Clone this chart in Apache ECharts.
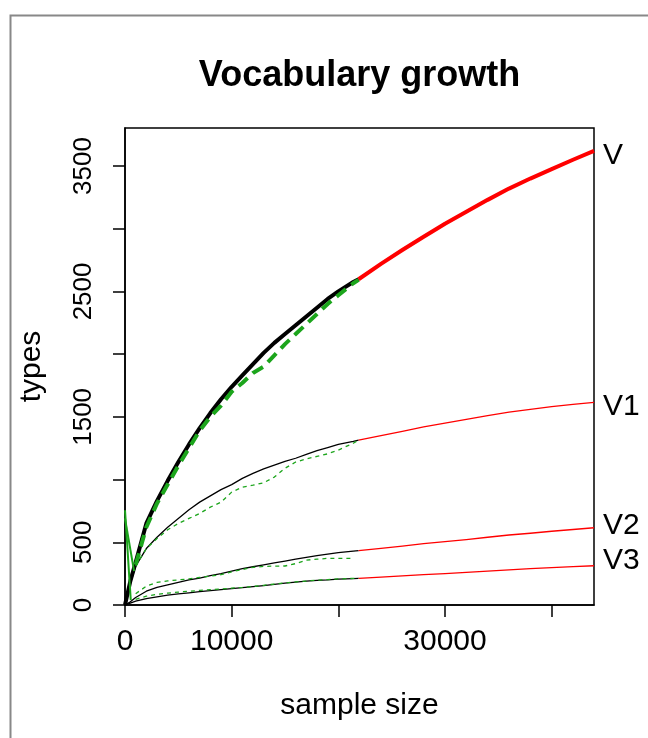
<!DOCTYPE html>
<html>
<head>
<meta charset="utf-8">
<script src="https://cdn.jsdelivr.net/npm/echarts@6/dist/echarts.min.js"></script>
<style>
html,body{margin:0;padding:0;background:#fff;}
#chart{width:648px;height:738px;}
</style>
</head>
<body>
<div id="chart"></div>
<script>
// ---- data ----
const sampleSizes = [0, 500, 1000, 2000, 3000, 4000, 5000, 6000, 7000, 8000, 9000, 10000, 11000, 12000, 13000, 14000, 15000, 16000, 17000, 18000, 19000, 20000, 21400, 21900];
const V_obs  = [0,190,340,650,830,990,1140,1280,1410,1530,1640,1740,1830,1920,2010,2090,2160,2230,2300,2370,2440,2500,2575,2597];
const V1_obs = [0,170,310,450,540,620,690,760,820,870,920,960,1010,1050,1085,1115,1145,1170,1200,1230,1255,1280,1305,1315];
const V2_obs = [0,25,60,110,140,160,180,200,215,235,250,270,290,305,320,335,350,365,380,393,405,418,430,433];
const V3_obs = [0,15,30,50,65,78,88,97,106,114,122,130,138,146,155,165,175,183,190,196,200,206,211,213];

const V_interp  = [null,null,320,620,810,960,1110,1250,1390,1500,1590,1700,1770,1850,1900,1990,2080,2160,2240,2320,2400,2470,2565,2592];
const V1_interp = [null,null,310,450,530,600,650,690,730,780,820,900,940,955,975,1020,1090,1140,1165,1185,1205,1235,1290,1315];
const V2_interp = [null,null,90,150,180,192,200,208,220,230,242,265,283,300,308,310,311,330,358,365,372,372,372,null];
const V3_interp = [null,null,45,70,85,95,103,110,116,122,128,134,140,148,157,167,176,184,191,198,203,208,212,213];

const extSizes = [21900, 24000, 26000, 28000, 30000, 32000, 34000, 36000, 38000, 40000, 42000, 43970];
const V_ext  = [2597,2720,2830,2936,3040,3135,3230,3320,3400,3475,3550,3620];
const V1_ext = [1315,1350,1385,1420,1450,1480,1510,1537,1560,1582,1600,1616];
const V2_ext = [433,452,470,490,505,522,540,558,572,588,602,616];
const V3_ext = [213,222,232,242,250,260,270,280,290,298,306,313];

const spikeA_N = [0, 540];
const spikeA_V = [755, 40];
const spikeB_N = [0, 850];
const spikeB_V = [690, 270];

const xTickValues = [0, 10000, 20000, 30000, 40000];
const xTickLabels = [0, 10000, 30000];
const yTickValues = [0, 500, 1000, 1500, 2000, 2500, 3000, 3500];
const yTickLabels = [0, 500, 1500, 2500, 3500];
const seriesLabels = ['V', 'V1', 'V2', 'V3'];
const X_MAX = 43970, Y_MAX = 3803;

// ---- chart ----
const pairs = (xs, ys) => xs.map((x, i) => [x, ys[i]]);
const FONT = '"Liberation Sans", Arial, Helvetica, sans-serif';
const GREEN = '#1ca51c';
const plain = v => String(v);

function line(name, xs, ys, color, width, dash, z) {
  return {
    type: 'line', name: name, data: pairs(xs, ys), symbol: 'none', silent: true,
    connectNulls: false, animation: false, z: z,
    lineStyle: { color: color, width: width, type: dash || 'solid', cap: 'butt', join: 'round' }
  };
}
function extLine(idx, ys, width, offY) {
  const s = line(seriesLabels[idx] + ' ext', extSizes, ys, '#ff0000', width, null, 3);
  s.endLabel = { show: true, formatter: seriesLabels[idx], color: '#000', fontSize: 30,
                 fontFamily: FONT, distance: 9, offset: [0, offY] };
  return s;
}

const chart = echarts.init(document.getElementById('chart'), null, { renderer: 'canvas' });
chart.setOption({
  backgroundColor: '#fff',
  animation: false,
  grid: { left: 125, right: 54, top: 128, bottom: 133, show: true, borderColor: '#000', borderWidth: 1.5, containLabel: false },
  xAxis: {
    type: 'value', min: 0, max: X_MAX,
    name: 'sample size', nameLocation: 'middle', nameGap: 86,
    nameTextStyle: { color: '#000', fontSize: 30, fontFamily: FONT },
    axisLine: { show: true, lineStyle: { color: '#000', width: 1.5 } },
    axisTick: { show: true, length: 12, lineStyle: { color: '#000', width: 1.5 }, customValues: xTickValues },
    axisLabel: { show: true, color: '#000', fontSize: 30, fontFamily: FONT, margin: 22, customValues: xTickLabels, formatter: plain },
    splitLine: { show: false }
  },
  yAxis: {
    type: 'value', min: 0, max: Y_MAX,
    name: 'types', nameLocation: 'middle', nameGap: 78, nameRotate: 90,
    nameTextStyle: { color: '#000', fontSize: 30, fontFamily: FONT },
    axisLine: { show: true, lineStyle: { color: '#000', width: 1.5 } },
    axisTick: { show: true, length: 12, lineStyle: { color: '#000', width: 1.5 }, customValues: yTickValues },
    axisLabel: { show: true, color: '#000', fontSize: 26, fontFamily: FONT, margin: 28, rotate: 90, customValues: yTickLabels, formatter: plain },
    splitLine: { show: false }
  },
  graphic: [
    { type: 'rect', left: 8, top: 13, shape: { width: 700, height: 800 }, style: { fill: null, stroke: '#888', lineWidth: 2 }, silent: true },
    { type: 'text', x: 359.5, y: 76, style: { text: 'Vocabulary growth', font: 'bold 36px ' + FONT, fill: '#000', textAlign: 'center', textVerticalAlign: 'middle' }, silent: true }
  ],
  series: [
    line('V', sampleSizes, V_obs, '#000', 4, null, 2),
    line('V1', sampleSizes, V1_obs, '#000', 1.3, null, 2),
    line('V2', sampleSizes, V2_obs, '#000', 1.3, null, 2),
    line('V3', sampleSizes, V3_obs, '#000', 1.3, null, 2),
    extLine(0, V_ext, 4, 5),
    extLine(1, V1_ext, 1.3, 4),
    extLine(2, V2_ext, 1.3, -2),
    extLine(3, V3_ext, 1.3, -5),
    line('V interp', sampleSizes, V_interp, GREEN, 4, [12, 7], 4),
    line('V1 interp', sampleSizes, V1_interp, GREEN, 1.3, [4, 4], 4),
    line('V2 interp', sampleSizes, V2_interp, GREEN, 1.3, [4, 4], 4),
    line('V3 interp', sampleSizes, V3_interp, GREEN, 1.3, [4, 4], 4),
    line('spike A', spikeA_N, spikeA_V, GREEN, 2, null, 4),
    line('spike B', spikeB_N, spikeB_V, GREEN, 2, null, 4)
  ]
});
</script>
</body>
</html>
